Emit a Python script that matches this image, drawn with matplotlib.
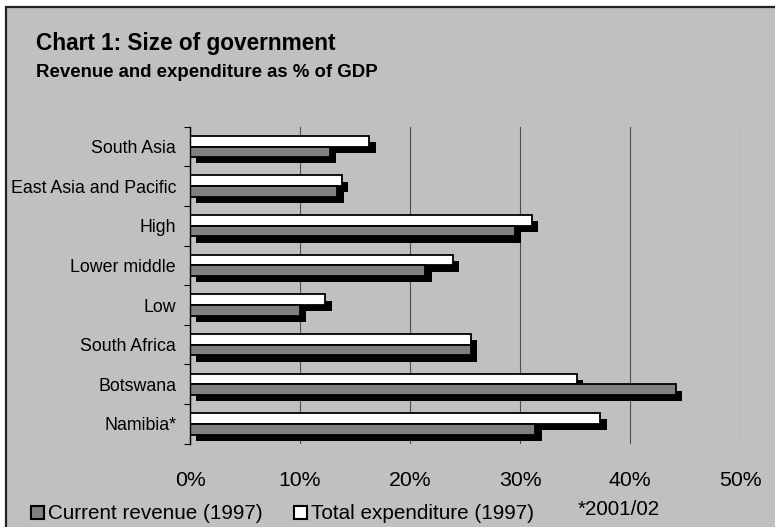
import matplotlib
matplotlib.use("Agg")
import matplotlib.pyplot as plt
import matplotlib.patheffects as pe
from matplotlib.patches import Rectangle
from matplotlib.ticker import PercentFormatter, FixedLocator
import numpy as np

plt.rcParams['font.family'] = ['Liberation Sans', 'DejaVu Sans']

categories = ["South Asia", "East Asia and Pacific", "High", "Lower middle",
              "Low", "South Africa", "Botswana", "Namibia*"]
revenue = [12.7, 13.4, 29.5, 21.4, 10.0, 25.5, 44.2, 31.4]
expenditure = [16.3, 13.8, 31.1, 23.9, 12.3, 25.5, 35.2, 37.3]
xticks = [0, 10, 20, 30, 40, 50]
legend_labels = ["Current revenue (1997)", "Total expenditure (1997)"]
note = "*2001/02"

W, H = 775, 527
BG = "#C0C0C0"
fig = plt.figure(figsize=(W / 100, H / 100), dpi=100, facecolor="white")

# chart-area background with border (top/left visible)
fig.patches.append(Rectangle((6 / W, -0.05), 1.2, 1 - 7 / H + 0.05,
                             transform=fig.transFigure, facecolor=BG,
                             edgecolor="#222222", linewidth=1.6, zorder=-10))

ax = fig.add_axes([190 / W, 1 - 443.7 / H, 550 / W, (443.7 - 126.7) / H])
ax.set_zorder(2)
ax.patch.set_alpha(0)

y = np.arange(len(categories))
h = 0.27
shadow = [pe.SimplePatchShadow(offset=(4.5, -4.5), shadow_rgbFace="black", alpha=1.0),
          pe.Normal()]
b1 = ax.barh(y - 0.135, expenditure, height=h, color="white", edgecolor="black",
             linewidth=1.3, zorder=3)
b2 = ax.barh(y + 0.135, revenue, height=h, color="#808080", edgecolor="black",
             linewidth=1.3, zorder=4)
for b in list(b1) + list(b2):
    b.set_path_effects(shadow)

ax.set_xlim(0, 50)
ax.set_ylim(len(categories) - 0.5, -0.5)
ax.set_xticks(xticks)
ax.xaxis.set_major_formatter(PercentFormatter(xmax=100, decimals=0))
ax.tick_params(axis="x", length=0, pad=20, labelsize=15.3, colors="black")
ax.grid(axis="x", color="#505050", linewidth=0.8, zorder=1)
ax.set_axisbelow(True)

ax.set_yticks(y)
ax.set_yticklabels(categories)
ax.yaxis.set_minor_locator(FixedLocator(np.arange(-0.5, len(categories), 1.0)))
ax.tick_params(axis="y", which="major", length=0, pad=10, labelsize=12.8)
ax.tick_params(axis="y", which="minor", length=4, width=0.8, direction="out")

for s in ["top", "right", "bottom"]:
    ax.spines[s].set_visible(False)
ax.spines["left"].set_color("black")
ax.spines["left"].set_linewidth(1.0)
ax.spines["left"].set_zorder(5)

# titles
fig.text(36 / W, 1 - 50 / H, "Chart 1: Size of government", fontsize=16.3,
         fontweight="bold", va="baseline", ha="left")
fig.text(36 / W, 1 - 77 / H, "Revenue and expenditure as % of GDP", fontsize=13.4,
         fontweight="bold", va="baseline", ha="left")

# legend
legend_colors = ["#808080", "white"]
legend_x = [31, 294]
for lx, lc, lt in zip(legend_x, legend_colors, legend_labels):
    fig.patches.append(Rectangle((lx / W, 1 - 519 / H), 13 / W, 13 / H,
                                 transform=fig.transFigure, facecolor=lc,
                                 edgecolor="black", linewidth=1.5, zorder=5))
    fig.text((lx + 17) / W, 1 - 519 / H, lt, fontsize=14.9, va="baseline", ha="left")
fig.text(578 / W, 1 - 515 / H, note, fontsize=14.9, va="baseline", ha="left")

fig.savefig("out.png", dpi=100, facecolor="white")
